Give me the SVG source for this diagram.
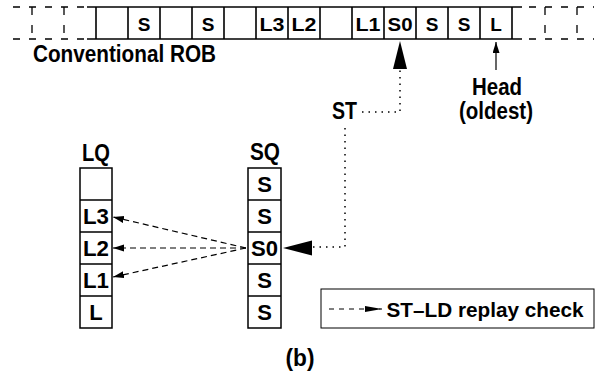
<svg xmlns="http://www.w3.org/2000/svg" width="602" height="392" viewBox="0 0 602 392">
<style>
text{font-family:"Liberation Sans",Arial,sans-serif;font-weight:bold;fill:#000;text-anchor:middle}
.lbl{font-size:23px}
.rc{font-size:19px}
.qc{font-size:22px}
.solid{stroke:#000;stroke-width:1.6;fill:none}
.dsh{stroke:#000;stroke-width:1.3;fill:none;stroke-dasharray:7 9}
.box{stroke:#000;stroke-width:1.5;fill:#fff}
.dot{stroke:#000;stroke-width:1.5;fill:none;stroke-dasharray:1.5 5}
.dash{stroke:#000;stroke-width:1.2;fill:none;stroke-dasharray:6 4}
</style>
<defs>
<marker id="ah" markerUnits="userSpaceOnUse" markerWidth="12" markerHeight="8" refX="11" refY="3.5" orient="auto">
<path d="M0,0 L11,3.5 L0,7 z" fill="#000"/>
</marker>
<marker id="ahl" markerUnits="userSpaceOnUse" markerWidth="18" markerHeight="8" refX="17" refY="3" orient="auto">
<path d="M0,0 L17,3 L0,6 z" fill="#000"/>
</marker>
</defs>

<g id="rob">
<line class="solid" x1="87" y1="7" x2="522" y2="7"/>
<line class="solid" x1="87" y1="39" x2="522" y2="39"/>
<path class="solid" d="M96,7V39M128,7V39M160,7V39M192,7V39M224,7V39M256,7V39M288,7V39M320,7V39M352,7V39M384,7V39M416,7V39M448,7V39M480,7V39M512,7V39"/>
<line class="dsh" x1="13" y1="7" x2="87" y2="7"/>
<line class="dsh" x1="13" y1="39" x2="87" y2="39"/>
<line class="dsh" x1="32" y1="7" x2="32" y2="39" style="stroke-dasharray:8 10"/>
<line class="dsh" x1="64" y1="7" x2="64" y2="39" style="stroke-dasharray:8 10"/>
<line class="dsh" x1="529" y1="7" x2="594" y2="7"/>
<line class="dsh" x1="529" y1="39" x2="594" y2="39"/>
<line class="dsh" x1="545" y1="7" x2="545" y2="39" style="stroke-dasharray:8 10"/>
<line class="dsh" x1="577" y1="7" x2="577" y2="39" style="stroke-dasharray:8 10"/>
<text class="rc" x="144" y="31">S</text>
<text class="rc" x="208" y="31">S</text>
<text class="rc" x="272" y="31" textLength="25" lengthAdjust="spacingAndGlyphs">L3</text>
<text class="rc" x="304" y="31" textLength="25" lengthAdjust="spacingAndGlyphs">L2</text>
<text class="rc" x="368" y="31" textLength="25" lengthAdjust="spacingAndGlyphs">L1</text>
<text class="rc" x="400" y="31" textLength="25" lengthAdjust="spacingAndGlyphs">S0</text>
<text class="rc" x="432" y="31">S</text>
<text class="rc" x="464" y="31">S</text>
<text class="rc" x="496" y="31">L</text>
<text class="lbl" x="124.5" y="62" textLength="183" lengthAdjust="spacingAndGlyphs">Conventional ROB</text>
</g>

<g id="head">
<line x1="496" y1="70" x2="496" y2="42" stroke="#000" stroke-width="1.2" marker-end="url(#ah)"/>
<text class="lbl" x="497" y="95" textLength="50" lengthAdjust="spacingAndGlyphs">Head</text>
<text class="lbl" x="496" y="119" textLength="74" lengthAdjust="spacingAndGlyphs">(oldest)</text>
</g>

<g id="st">
<text class="lbl" x="344.5" y="119" textLength="25" lengthAdjust="spacingAndGlyphs">ST</text>
</g>

<g id="lq">
<text class="lbl" x="96" y="161" textLength="28" lengthAdjust="spacingAndGlyphs">LQ</text>
<rect class="box" x="80" y="168" width="32" height="160"/>
<path class="solid" d="M80,200H112M80,232H112M80,264H112M80,296H112"/>
<text class="qc" x="96" y="223.5" textLength="26" lengthAdjust="spacingAndGlyphs">L3</text>
<text class="qc" x="96" y="255.5" textLength="26" lengthAdjust="spacingAndGlyphs">L2</text>
<text class="qc" x="96" y="287.5" textLength="26" lengthAdjust="spacingAndGlyphs">L1</text>
<text class="qc" x="96" y="319.5">L</text>
</g>

<g id="sq">
<text class="lbl" x="265" y="160" textLength="30" lengthAdjust="spacingAndGlyphs">SQ</text>
<rect class="box" x="248" y="168" width="33" height="160"/>
<path class="solid" d="M248,200H281M248,232H281M248,264H281M248,296H281"/>
<text class="qc" x="264.5" y="191.5">S</text>
<text class="qc" x="264.5" y="223.5">S</text>
<text class="qc" x="264.5" y="255.5" textLength="27" lengthAdjust="spacingAndGlyphs">S0</text>
<text class="qc" x="264.5" y="287.5">S</text>
<text class="qc" x="264.5" y="319.5">S</text>
</g>

<g id="connectors">
<path class="dot" d="M362,112 H400 V70"/>
<polygon points="400,41 393,69 407,69" fill="#000"/>
<path class="dot" d="M345,128 V247 H312"/>
<polygon points="283,248 312,240.5 312,255.5" fill="#000"/>
<line class="dash" x1="246" y1="248" x2="113" y2="217" marker-end="url(#ah)"/>
<line class="dash" x1="246" y1="248" x2="113" y2="248" marker-end="url(#ah)"/>
<line class="dash" x1="246" y1="248" x2="113" y2="277" marker-end="url(#ah)"/>
</g>

<g id="legend">
<rect x="321" y="289" width="273" height="39" fill="#fff" stroke="#000" stroke-width="1"/>
<line x1="329" y1="309" x2="382" y2="309" stroke="#000" stroke-width="1.2" stroke-dasharray="5 5" marker-end="url(#ahl)"/>
<text x="485" y="317" style="font-size:21px" textLength="197" lengthAdjust="spacingAndGlyphs">ST–LD replay check</text>
</g>

<text class="lbl" x="300" y="366" textLength="29" lengthAdjust="spacingAndGlyphs">(b)</text>
</svg>
